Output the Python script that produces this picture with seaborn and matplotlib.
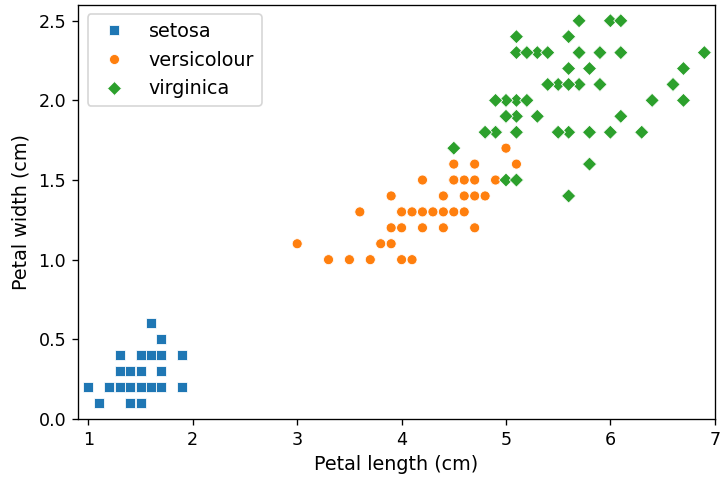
import pandas as pd
import seaborn as sns
from matplotlib import pyplot as plt

# iris petal measurements, read per species
setosa_length = [1.4, 1.4, 1.3, 1.5, 1.4, 1.7, 1.4, 1.5, 1.4, 1.5,
                 1.5, 1.6, 1.4, 1.1, 1.2, 1.5, 1.3, 1.4, 1.7, 1.5,
                 1.7, 1.5, 1.0, 1.7, 1.9, 1.6, 1.6, 1.5, 1.4, 1.6,
                 1.6, 1.5, 1.5, 1.4, 1.5, 1.2, 1.3, 1.4, 1.3, 1.5,
                 1.3, 1.3, 1.3, 1.6, 1.9, 1.4, 1.6, 1.4, 1.5, 1.4]
setosa_width = [0.2, 0.2, 0.2, 0.2, 0.2, 0.4, 0.3, 0.2, 0.2, 0.1,
                0.2, 0.2, 0.1, 0.1, 0.2, 0.4, 0.4, 0.3, 0.3, 0.3,
                0.2, 0.4, 0.2, 0.5, 0.2, 0.2, 0.4, 0.2, 0.2, 0.2,
                0.2, 0.4, 0.1, 0.2, 0.2, 0.2, 0.2, 0.1, 0.2, 0.2,
                0.3, 0.3, 0.2, 0.6, 0.4, 0.3, 0.2, 0.2, 0.2, 0.2]

versicolour_length = [4.7, 4.5, 4.9, 4.0, 4.6, 4.5, 4.7, 3.3, 4.6, 3.9,
                      3.5, 4.2, 4.0, 4.7, 3.6, 4.4, 4.5, 4.1, 4.5, 3.9,
                      4.8, 4.0, 4.9, 4.7, 4.3, 4.4, 4.8, 5.0, 4.5, 3.5,
                      3.8, 3.7, 3.9, 5.1, 4.5, 4.5, 4.7, 4.4, 4.1, 4.0,
                      4.4, 4.6, 4.0, 3.3, 4.2, 4.2, 4.2, 4.3, 3.0, 4.1]
versicolour_width = [1.4, 1.5, 1.5, 1.3, 1.5, 1.3, 1.6, 1.0, 1.3, 1.4,
                     1.0, 1.5, 1.0, 1.4, 1.3, 1.4, 1.5, 1.0, 1.5, 1.1,
                     1.8, 1.3, 1.5, 1.2, 1.3, 1.4, 1.4, 1.7, 1.5, 1.0,
                     1.1, 1.0, 1.2, 1.6, 1.5, 1.6, 1.5, 1.3, 1.3, 1.3,
                     1.2, 1.4, 1.2, 1.0, 1.3, 1.2, 1.3, 1.3, 1.1, 1.3]

virginica_length = [6.0, 5.1, 5.9, 5.6, 5.8, 6.6, 4.5, 6.3, 5.8, 6.1,
                    5.1, 5.3, 5.5, 5.0, 5.1, 5.3, 5.5, 6.7, 6.9, 5.0,
                    5.7, 4.9, 6.7, 4.9, 5.7, 6.0, 4.8, 4.9, 5.6, 5.8,
                    6.1, 6.4, 5.6, 5.1, 5.6, 6.1, 5.6, 5.5, 4.8, 5.4,
                    5.6, 5.1, 5.1, 5.9, 5.7, 5.2, 5.0, 5.2, 5.4, 5.1]
virginica_width = [2.5, 1.9, 2.1, 1.8, 2.2, 2.1, 1.7, 1.8, 1.8, 2.5,
                   2.0, 1.9, 2.1, 2.0, 2.4, 2.3, 1.8, 2.2, 2.3, 1.5,
                   2.3, 2.0, 2.0, 1.8, 2.1, 1.8, 1.8, 1.8, 2.1, 1.6,
                   1.9, 2.0, 2.2, 1.5, 1.4, 2.3, 2.4, 1.8, 1.8, 2.1,
                   2.4, 2.3, 1.9, 2.3, 2.5, 2.3, 1.9, 2.0, 2.3, 1.8]

species = ['setosa', 'versicolour', 'virginica']

df = pd.DataFrame({
    'Petal length (cm)': setosa_length + versicolour_length + virginica_length,
    'Petal width (cm)': setosa_width + versicolour_width + virginica_width,
    'species': [species[0]] * len(setosa_length)
               + [species[1]] * len(versicolour_length)
               + [species[2]] * len(virginica_length),
})

fig, ax = plt.subplots(figsize=(722 / 120, 481 / 120), dpi=120)
sns.scatterplot(data=df, x='Petal length (cm)', y='Petal width (cm)',
                hue='species', style='species', hue_order=species, style_order=species,
                markers=['s', 'o', 'D'], palette=['tab:blue', 'tab:orange', 'tab:green'], ax=ax)
ax.set_xlim(0.9, 7)
ax.set_ylim(0, 2.6)
ax.tick_params(labelsize=10.5)
ax.set_xlabel('Petal length (cm)', fontsize=11.5, labelpad=4)
ax.set_ylabel('Petal width (cm)', fontsize=11.5, labelpad=5)
sns.move_legend(ax, 'upper left', title=None, fontsize=11.5, handletextpad=0.8)
plt.subplots_adjust(left=0.108, right=0.990, bottom=0.129, top=0.990)
plt.savefig('out.png', dpi=120)
